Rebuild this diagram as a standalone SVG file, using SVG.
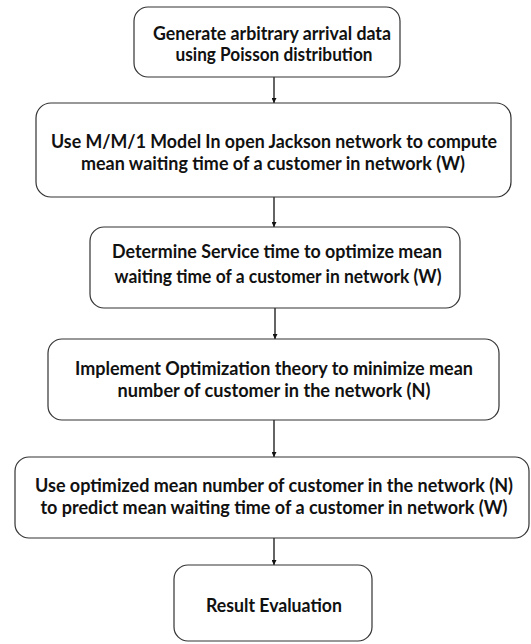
<svg xmlns="http://www.w3.org/2000/svg" width="531" height="644" viewBox="0 0 531 644">
<style>
.box{fill:#fff;stroke:#333;stroke-width:1.2}
.t{font-family:Lato,"Open Sans","Liberation Sans",sans-serif;font-weight:bold;font-size:18.5px;fill:#111;text-anchor:middle}
.c{stroke:#111;stroke-width:1.3;fill:none;marker-end:url(#ah)}
</style>
<defs>
<marker id="ah" viewBox="0 0 10 10" refX="10" refY="5" markerWidth="5" markerHeight="5" markerUnits="userSpaceOnUse" orient="auto">
<path d="M0,0 L10,5 L0,10 z" fill="#111"/>
</marker>
</defs>
<rect width="531" height="644" fill="#fff"/>
<g id="connectors">
<line class="c" x1="274" y1="77" x2="274" y2="103"/>
<line class="c" x1="274" y1="197" x2="274" y2="227"/>
<line class="c" x1="275" y1="308" x2="275" y2="339"/>
<line class="c" x1="274" y1="420" x2="274" y2="457"/>
<line class="c" x1="274" y1="538" x2="274" y2="565"/>
</g>
<g id="n1">
<rect class="box" x="134" y="7" width="266" height="70" rx="14"/>
<text class="t" x="272" y="40" textLength="238" lengthAdjust="spacingAndGlyphs">Generate arbitrary arrival data</text>
<text class="t" x="274" y="61" textLength="197" lengthAdjust="spacingAndGlyphs">using Poisson distribution</text>
</g>
<g id="n2">
<rect class="box" x="36" y="103" width="475" height="94" rx="15"/>
<text class="t" x="274" y="148" textLength="446" lengthAdjust="spacingAndGlyphs">Use M/M/1 Model In open Jackson network to compute</text>
<text class="t" x="273" y="170" textLength="384" lengthAdjust="spacingAndGlyphs">mean waiting time of a customer in network (W)</text>
</g>
<g id="n3">
<rect class="box" x="90" y="227" width="370" height="81" rx="14"/>
<text class="t" x="277" y="258" textLength="330" lengthAdjust="spacingAndGlyphs">Determine Service time to optimize mean</text>
<text class="t" x="278" y="283" textLength="327" lengthAdjust="spacingAndGlyphs">waiting time of a customer in network (W)</text>
</g>
<g id="n4">
<rect class="box" x="48" y="339" width="451" height="81" rx="14"/>
<text class="t" x="274" y="375" textLength="398" lengthAdjust="spacingAndGlyphs">Implement Optimization theory to minimize mean</text>
<text class="t" x="274" y="397" textLength="313" lengthAdjust="spacingAndGlyphs">number of customer in the network (N)</text>
</g>
<g id="n5">
<rect class="box" x="15" y="457" width="514" height="81" rx="14"/>
<text class="t" x="274" y="492" textLength="478" lengthAdjust="spacingAndGlyphs">Use optimized mean number of customer in the network (N)</text>
<text class="t" x="274" y="514" textLength="467" lengthAdjust="spacingAndGlyphs">to predict mean waiting time of a customer in network (W)</text>
</g>
<g id="n6">
<rect class="box" x="174" y="565" width="198" height="76" rx="14"/>
<text class="t" x="274" y="612" textLength="136" lengthAdjust="spacingAndGlyphs">Result Evaluation</text>
</g>
</svg>
